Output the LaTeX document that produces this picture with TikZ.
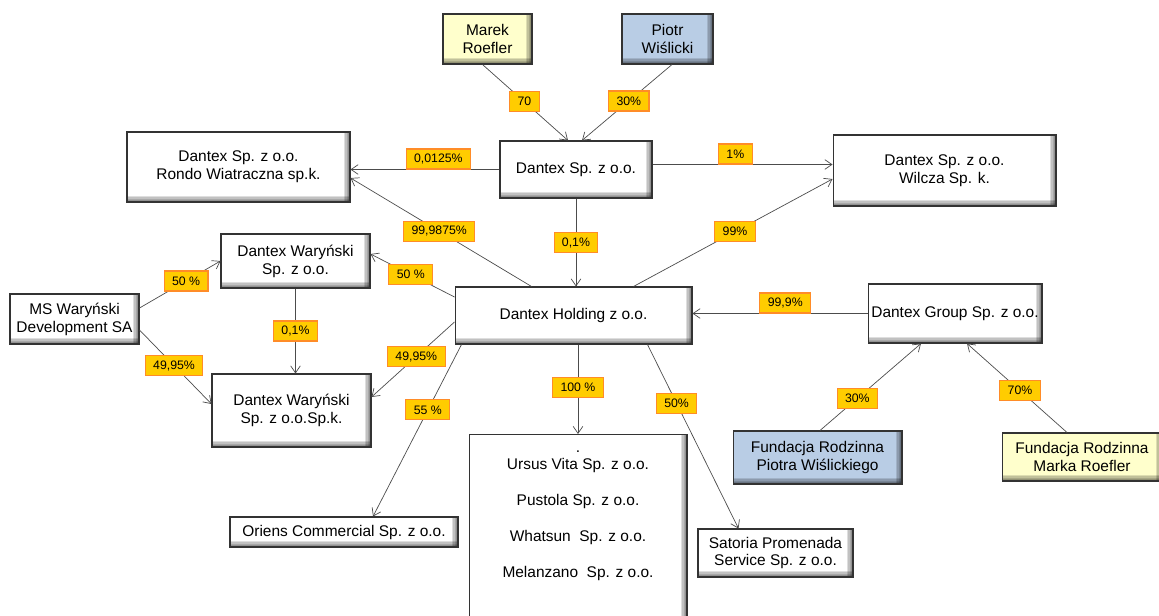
\documentclass[tikz,border=0pt]{standalone}
\usepackage{fontspec}
\setmainfont{Liberation Sans}
\usetikzlibrary{shapes,arrows.meta,calc}
\definecolor{pctfill}{RGB}{255,204,0}
\definecolor{pctline}{RGB}{255,140,40}
\definecolor{personY}{RGB}{255,255,204}
\definecolor{personB}{RGB}{185,205,229}
\tikzstyle{firm} = [rectangle, draw=black!80, line width=0.6pt, fill=white, align=center, inner sep=0pt, font=\fontsize{8.8}{10.2}\selectfont, path picture={\foreach \w in {3.6,2.7,1.8,0.9} {\fill[black, opacity=0.13] ([xshift=-\w pt]path picture bounding box.north east) rectangle (path picture bounding box.south east); \fill[black, opacity=0.13] ([yshift=\w pt]path picture bounding box.south west) rectangle (path picture bounding box.south east);}}]
\tikzstyle{pct} = [rectangle, draw=pctline, fill=pctfill, line width=0.6pt, font=\fontsize{7}{8}\selectfont, inner xsep=4.5pt, inner ysep=0pt, minimum height=0.4cm]
\tikzstyle{arrow} = [draw=black!70, line width=0.4pt, -{Straight Barb[length=4pt,width=5.5pt]}]

\begin{document}
\begin{tikzpicture}[x=0.02cm, y=-0.02cm]
\useasboundingbox (0,0) rectangle (1159,615);
\clip (0,0) rectangle (1159,615);

\node (marek) [firm, fill=personY, minimum width=1.78cm, minimum height=1cm] at (487.5,39) {Marek\\Roefler};
\node (piotr) [firm, fill=personB, minimum width=1.82cm, minimum height=1cm] at (667.5,39) {Piotr\\Wiślicki};
\node (dsp) [firm, minimum width=3.04cm, minimum height=1.14cm] at (576,169.5) {Dantex Sp. z o.o.};
\node (rondo) [firm, minimum width=4.46cm, minimum height=1.4cm] at (238.5,167) {Dantex Sp. z o.o.\\Rondo Wiatraczna sp.k.};
\node (wilcza) [firm, minimum width=4.46cm, minimum height=1.42cm] at (944.5,170.5) {Dantex Sp. z o.o.\\Wilcza Sp. k.};
\node (warsp) [firm, minimum width=2.98cm, minimum height=1.08cm] at (295.5,261) {Dantex Waryński\\Sp. z o.o.};
\node (ms) [firm, minimum width=2.58cm, minimum height=1cm] at (74.5,319) {MS Waryński\\Development SA};
\node (warspk) [firm, minimum width=3.18cm, minimum height=1.46cm] at (291.5,410.5) {Dantex Waryński\\Sp. z o.o.Sp.k.};
\node (hold) [firm, minimum width=4.74cm, minimum height=1.14cm] at (573.5,315.5) {Dantex Holding z o.o.};
\node (group) [firm, minimum width=3.48cm, minimum height=1.18cm] at (955,313.5) {Dantex Group Sp. z o.o.};
\node (fpiotr) [firm, fill=personB, minimum width=3.38cm, minimum height=1.06cm] at (817.5,457.5) {Fundacja Rodzinna\\Piotra Wiślickiego};
\node (fmarek) [firm, fill=personY, minimum width=3.2cm, minimum height=0.96cm] at (1082,457) {Fundacja Rodzinna\\Marka Roefler};
\node (subsbox) [firm, anchor=north, minimum width=4.36cm, minimum height=4cm] at (578,434) {};
\node (subs) [anchor=north, align=center, inner sep=0pt, font=\fontsize{8.8}{10}\selectfont] at (578,450) {.\\Ursus Vita Sp. z o.o.\\[10.4pt]Pustola Sp. z o.o.\\[10.4pt]Whatsun\ \ Sp. z o.o.\\[10.4pt]Melanzano\ \ Sp. z o.o.};
\node (satoria) [firm, minimum width=3.1cm, minimum height=0.96cm] at (775.5,553) {Satoria Promenada\\Service Sp. z o.o.};
\node (oriens) [firm, minimum width=4.56cm, minimum height=0.6cm] at (344,532) {Oriens Commercial Sp. z o.o.};

\draw [arrow] ($(marek.south)+(-5,0)$) -- node[pct, pos=0.49] {70} ($(dsp.north)+(-8,0)$);
\draw [arrow] ($(piotr.south)+(4.5,0)$) -- node[pct, pos=0.48] {30\%} ($(dsp.north)+(6,0)$);
\draw [arrow] (dsp.west) -- node[pct, above, pos=0.41] {0,0125\%} (dsp.west -| rondo.east);
\draw [arrow] ($(dsp.east)+(0,-5)$) -- node[pct, above, pos=0.46] {1\%} ($(wilcza.west)+(0,-6)$);
\draw [arrow] (dsp.south) -- node[pct, pos=0.5] {0,1\%} (dsp.south |- hold.north);
\draw [arrow] ($(hold.north west)+(77,0)$) -- node[pct, pos=0.51] {99,9875\%} ($(rondo.east)+(0,11)$);
\draw [arrow] ($(hold.north west)+(179,0)$) -- node[pct, pos=0.51] {99\%} ($(wilcza.west)+(0,8.5)$);
\draw [arrow] ($(hold.west)+(0,-18.5)$) -- node[pct, pos=0.52] {50 \%} ($(warsp.east)+(0,-7)$);
\draw [arrow] ($(hold.west)+(0,6.5)$) -- node[pct, pos=0.46] {49,95\%} ($(warspk.east)+(0,-13.5)$);
\draw [arrow] ($(hold.south west)+(7,0)$) -- node[pct, pos=0.38] {55 \%} ($(oriens.north)+(29,0)$);
\draw [arrow] (subsbox.north |- hold.south) -- node[pct, pos=0.48] {100 \%} (subsbox.north);
\draw [arrow] ($(hold.south west)+(193,0)$) -- node[pct, pos=0.32] {50\%} ($(satoria.north west)+(41,0)$);
\draw [arrow] (group.west) -- node[pct, above, pos=0.47] {99,9\%} (group.west -| hold.east);
\draw [arrow] ($(ms.east)+(0,-11)$) -- node[pct, pos=0.575] {50 \%} (warsp.west);
\draw [arrow] ($(ms.east)+(0,11)$) -- node[pct, pos=0.48] {49,95\%} ($(warspk.west)+(0,-6.5)$);
\draw [arrow] (warsp.south) -- node[pct, pos=0.5] {0,1\%} (warsp.south |- warspk.north);
\draw [arrow] ($(fpiotr.north)+(2.5,0)$) -- node[pct, pos=0.37] {30\%} ($(group.south)+(-34,0)$);
\draw [arrow] ($(fmarek.north)+(-15,0)$) -- node[pct, pos=0.47] {70\%} ($(group.south)+(12,0)$);

\end{tikzpicture}
\end{document}
